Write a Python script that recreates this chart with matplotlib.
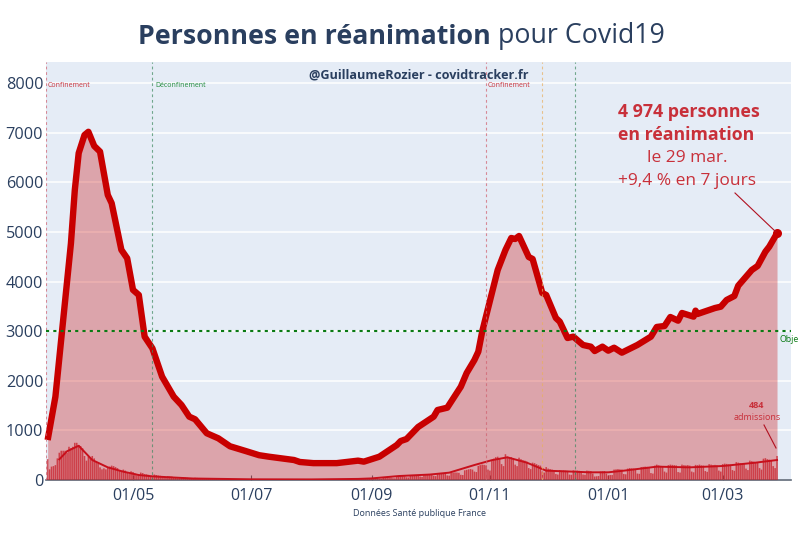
import matplotlib
matplotlib.use("Agg")
import matplotlib.pyplot as plt
import matplotlib.dates as mdates
import pandas as pd

plt.rcParams['font.family'] = ['Open Sans', 'DejaVu Sans']

rea_dates = ["2020-03-18","2020-03-22","2020-03-26","2020-03-30","2020-04-01","2020-04-03","2020-04-06","2020-04-08",
    "2020-04-11","2020-04-14","2020-04-18","2020-04-20","2020-04-25","2020-04-28","2020-05-01","2020-05-04","2020-05-07",
    "2020-05-11","2020-05-16","2020-05-22","2020-05-26","2020-05-30","2020-06-02","2020-06-08","2020-06-14","2020-06-20",
    "2020-06-28","2020-07-05","2020-07-10","2020-07-23","2020-07-26","2020-08-02","2020-08-14","2020-08-25","2020-08-28",
    "2020-09-05","2020-09-14","2020-09-16","2020-09-19","2020-09-25","2020-10-03","2020-10-05","2020-10-10","2020-10-17",
    "2020-10-20","2020-10-24","2020-10-26","2020-10-28","2020-11-05","2020-11-09","2020-11-12","2020-11-14","2020-11-16",
    "2020-11-21","2020-11-23","2020-11-28","2020-11-30","2020-12-05","2020-12-07","2020-12-11","2020-12-14","2020-12-19",
    "2020-12-23","2020-12-25","2020-12-29","2021-01-01","2021-01-04","2021-01-08","2021-01-16","2021-01-23","2021-01-26",
    "2021-01-30","2021-02-02","2021-02-06","2021-02-08","2021-02-14","2021-02-15","2021-02-16","2021-02-19","2021-02-25",
    "2021-02-28","2021-03-03","2021-03-07","2021-03-09","2021-03-16","2021-03-19","2021-03-23","2021-03-25","2021-03-29"]
rea_values = [806,1680,3226,4770,5846,6590,6955,7020,
    6734,6620,5746,5580,4640,4470,3833,3730,2890,
    2655,2083,1680,1512,1277,1224,943,840,680,
    585,500,470,403,363,340,340,390,370,
    470,705,786,826,1069,1277,1411,1458,1881,
    2157,2419,2587,2990,4234,4637,4879,4859,4919,
    4496,4456,3770,3730,3266,3192,2863,2890,2722,
    2688,2600,2688,2607,2667,2567,2722,2890,3085,
    3105,3286,3212,3367,3293,3414,3347,3387,3467,
    3494,3629,3710,3917,4234,4315,4603,4704,4974]

adm_mar20 = [420,215,270,280,300,436,550,590,590,590,550,670,640,670]
adm_apr20 = [750,750,705,685,640,484,390,470,457,484,436,370,336,255,215,235,215,255,270,290,280,260,240,200,170,210,190,150,120,175]
adm_may20 = [160,130,95,85,150,140,120,115,105,70,60,110,100,90,85,75,50,45,80,75,70,60,40,35,35,60,55,50,45,35,30]
adm_jun20 = [25,45,42,40,35,30,22,20,35,32,30,28,22,16,15,26,25,22,20,18,14,12,22,20,18,16,15,10,10,18]
adm_jul20 = [16,15,14,12,9,9,15,14,13,12,11,8,8,12,13,12,12,10,8,7,13,13,14,12,10,8,8,14,15,14,14]
adm_aug20 = [10,8,14,15,15,14,13,9,9,15,18,18,16,14,10,10,18,20,20,20,18,12,11,24,26,28,26,24,18,17,32]
adm_sep20 = [36,38,38,36,26,24,48,52,54,50,48,36,34,72,76,80,78,74,55,50,95,100,98,96,92,70,62,115,120,118]
adm_oct20 = [115,112,85,78,125,130,135,132,125,92,88,150,148,152,150,145,105,100,195,205,215,220,210,170,160,285,300,310,305,295,210]
adm_nov20 = [190,400,430,460,470,440,320,280,520,470,450,460,440,310,280,450,420,400,390,370,240,220,350,340,320,300,290,170,150,260]
adm_dec20 = [230,220,210,200,120,110,200,190,195,190,185,110,105,195,190,190,185,180,110,105,190,185,180,130,70,75,80,170,175,180,130]
adm_jan21 = [90,100,100,210,215,220,215,210,120,115,230,240,235,230,225,130,125,260,265,270,265,260,140,130,290,310,295,285,280,170,150]
adm_feb21 = [300,310,305,300,295,160,150,310,300,295,300,290,170,155,305,300,310,295,290,180,165,320,310,300,305,295,190,170]
adm_mar21 = [320,330,325,315,310,200,185,360,350,340,335,330,230,200,390,380,370,360,350,240,210,430,440,420,410,400,280,240,484]
adm_months = [("2020-03-18",adm_mar20),("2020-04-01",adm_apr20),("2020-05-01",adm_may20),("2020-06-01",adm_jun20),
    ("2020-07-01",adm_jul20),("2020-08-01",adm_aug20),("2020-09-01",adm_sep20),("2020-10-01",adm_oct20),
    ("2020-11-01",adm_nov20),("2020-12-01",adm_dec20),("2021-01-01",adm_jan21),("2021-02-01",adm_feb21),("2021-03-01",adm_mar21)]

avg_dates = ["2020-03-24","2020-03-28","2020-04-03","2020-04-10","2020-04-18","2020-04-26","2020-05-04","2020-05-11","2020-05-20",
    "2020-06-01","2020-07-01","2020-08-01","2020-08-25","2020-09-01","2020-09-15","2020-10-01","2020-10-11","2020-10-24",
    "2020-11-02","2020-11-10","2020-11-20","2020-11-30","2020-12-14","2020-12-22","2021-01-01","2021-01-09","2021-01-26",
    "2021-02-12","2021-03-01","2021-03-18","2021-03-29"]
avg_values = [417,580,690,403,255,168,100,74,54,30,14,12,22,32,80,110,148,302,400,457,350,188,168,155,155,188,269,255,282,350,403]

vline_dates = ["2020-03-17","2020-05-11","2020-10-30","2020-11-28","2020-12-15"]
vline_colors = ["#d0606e","#3f8a60","#d0606e","#e8b060","#3f8a60"]
y_ticks = [0,1000,2000,3000,4000,5000,6000,7000,8000]
x_tick_dates = ["2020-05-01","2020-07-01","2020-09-01","2020-11-01","2021-01-01","2021-03-01"]
x_tick_labels = ["01/05","01/07","01/09","01/11","01/01","01/03"]
goal = 3000

NAVY = "#2a3f5f"
RED = "#c80000"
ANN = "#c8303a"

W, H = 800, 533
fig = plt.figure(figsize=(8, 5.33), dpi=100, facecolor="white")
ax = fig.add_axes([46/W, 1-480/H, (791-46)/W, (480-62)/H], facecolor="#E5ECF6")
ax.set_axisbelow(True)

x = mdates.date2num(pd.to_datetime(rea_dates))
ax.fill_between(x, rea_values, 0, color=RED, alpha=0.3, lw=0, zorder=2)
ax.plot(x, rea_values, color=RED, lw=4.6, solid_joinstyle="round", solid_capstyle="butt", zorder=5, clip_on=False)
ax.plot(x[-1], rea_values[-1], "o", color=RED, ms=6.5, mew=0, zorder=7)

for start, vals in adm_months:
    d = mdates.date2num(pd.date_range(start, periods=len(vals)))
    bars = ax.bar(d, vals, width=0.8, color="#c81e28", alpha=0.75, lw=0, zorder=3)
    for p in bars:
        p.set_snap(False)
ax.plot(mdates.date2num(pd.to_datetime(avg_dates)), avg_values, color="#c8101c", lw=1.4, zorder=4)

for d, c in zip(vline_dates, vline_colors):
    ax.axvline(mdates.date2num(pd.Timestamp(d)), color=c, lw=0.8, alpha=0.7, ls=(0, (2.5, 2.5)), zorder=6)
ax.axhline(goal, color="#0a7a14", lw=1.5, ls=(0, (1.5, 2)), zorder=6)

x0 = mdates.date2num(pd.Timestamp("2020-05-01"))
ax.set_xlim(x0 - 44.85, x0 + 339.2)
ax.set_ylim(0, 8427)
ax.set_yticks(y_ticks)
ax.set_xticks(mdates.date2num(pd.to_datetime(x_tick_dates)))
ax.set_xticklabels(x_tick_labels)
ax.grid(axis="y", color="white", lw=1.1, zorder=1)
ax.grid(axis="x", visible=False)
for s in ["top", "right", "left"]:
    ax.spines[s].set_visible(False)
ax.spines["bottom"].set_color("#606a78")
ax.spines["bottom"].set_linewidth(1.2)
ax.tick_params(axis="y", length=0, labelsize=11.7, labelcolor=NAVY, pad=2)
ax.tick_params(axis="x", direction="in", length=3.5, width=0.8, color="#606a78", labelsize=11.5, labelcolor=NAVY, pad=6)

def px(xp, yp, s, **kw):
    return fig.text(xp/W, 1-yp/H, s, **kw)

for xp, lab, c in [(48, "Confinement", "#c8303a"), (155, "Déconfinement", "#1f8a3a"), (488, "Confinement", "#c8303a")]:
    px(xp, 85, lab, fontsize=5, color=c, ha="left", va="center", zorder=10)
px(419, 75, "@GuillaumeRozier - covidtracker.fr", fontsize=9.05, fontweight="bold", color=NAVY, ha="center", va="center")
px(779, 339, "Obje", fontsize=6.3, color="#0a7a14", ha="left", va="center")
px(419, 513, "Données Santé publique France", fontsize=6.5, color=NAVY, ha="center", va="center")

t1 = px(138, 36.5, "Personnes en réanimation", fontsize=19.25, fontweight="bold", color=NAVY, ha="left", va="center")
fig.canvas.draw()
bb = t1.get_window_extent()
px(bb.x1 + 7, 36.5, "pour Covid19", fontsize=19.25, color=NAVY, ha="left", va="center")

px(689, 112, "4 974 personnes", fontsize=12.75, fontweight="bold", color=ANN, ha="center", va="center")
px(686, 135, "en réanimation", fontsize=12.75, fontweight="bold", color=ANN, ha="center", va="center")
px(687, 158, "le 29 mar.", fontsize=12.55, color=ANN, ha="center", va="center")
px(687, 181, "+9,4 % en 7 jours", fontsize=12.55, color=ANN, ha="center", va="center")
fig.add_artist(plt.Line2D([735/W, 776/W], [1-193/H, 1-232/H], color="#b01020", lw=0.8))

px(757, 405, "484", fontsize=6.5, fontweight="bold", color=ANN, ha="center", va="center")
px(757, 417, "admissions", fontsize=6.5, color=ANN, ha="center", va="center")
fig.add_artist(plt.Line2D([764/W, 776/W], [1-425/H, 1-448/H], color="#b01020", lw=0.8))

fig.savefig("out.png", dpi=100, facecolor="white")
